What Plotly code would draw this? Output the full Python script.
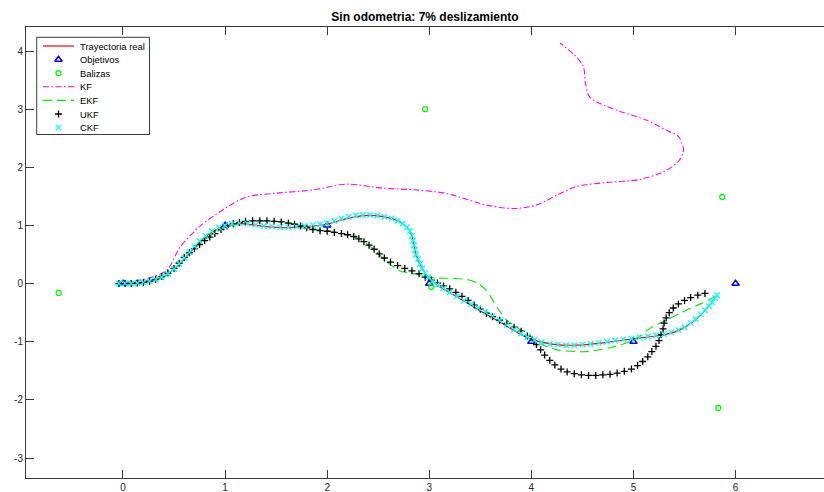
import plotly.graph_objects as go

# ---------------- data ----------------
real_x = [0.00, 0.20, 0.40, 0.55, 0.70, 0.85, 1.00, 1.15, 1.40, 1.60, 1.85, 2.00, 2.15, 2.35, 2.55,
          2.70, 2.80, 2.84, 2.87, 2.92, 3.00, 3.10, 3.30, 3.50, 3.70, 3.90, 4.00, 4.20, 4.45, 4.70,
          5.00, 5.30, 5.45, 5.58, 5.70, 5.80]
real_y = [0.00, 0.02, 0.12, 0.33, 0.62, 0.86, 0.99, 1.03, 0.98, 0.96, 0.99, 1.02, 1.10, 1.17, 1.15,
          1.07, 0.93, 0.75, 0.50, 0.29, 0.08, -0.05, -0.26, -0.47, -0.67, -0.88, -0.96, -1.04, -1.06, -1.02,
          -0.95, -0.88, -0.80, -0.66, -0.46, -0.24]

obj_x = [0, 1, 2, 3, 4, 5, 6]
obj_y = [0, 1, 1, 0, -1, -1, 0]

bal_x = [-0.63, 2.96, 3.02, 5.87, 5.83]
bal_y = [-0.16, 3.00, -0.06, 1.49, -2.14]

kf_x = [0.00, 0.26, 0.43, 0.56, 0.75, 0.98, 1.21, 1.47, 1.86, 2.19, 2.55, 2.88, 3.17, 3.56, 3.82,
        4.05, 4.25, 4.44, 4.74, 5.06, 5.29, 5.44, 5.49, 5.44, 5.32, 5.13, 4.87, 4.67, 4.57, 4.53,
        4.51, 4.44, 4.28]
kf_y = [0.00, 0.10, 0.23, 0.63, 0.98, 1.27, 1.49, 1.55, 1.61, 1.71, 1.64, 1.61, 1.55, 1.35, 1.29,
        1.35, 1.52, 1.67, 1.74, 1.79, 1.92, 2.10, 2.30, 2.53, 2.64, 2.81, 2.96, 3.10, 3.21, 3.44,
        3.73, 3.90, 4.14]

ekf_x = [0.00, 0.30, 0.50, 0.65, 0.82, 1.00, 1.20, 1.41, 1.60, 1.75, 1.90, 2.10, 2.30, 2.45, 2.58,
         2.71, 2.85, 3.04, 3.20, 3.37, 3.48, 3.56, 3.62, 3.68, 3.76, 3.88, 4.00, 4.12, 4.25, 4.54,
         4.80, 5.00, 5.19, 5.32, 5.46, 5.55, 5.67, 5.80]
ekf_y = [0.00, 0.05, 0.25, 0.52, 0.78, 0.97, 1.06, 1.08, 1.05, 0.99, 0.93, 0.88, 0.78, 0.60, 0.38,
         0.22, 0.17, 0.10, 0.09, 0.07, 0.00, -0.12, -0.28, -0.45, -0.63, -0.78, -0.92, -1.06, -1.14, -1.17,
         -1.09, -0.97, -0.74, -0.63, -0.51, -0.43, -0.34, -0.22]

ukf_x = [-0.04, 0.02, 0.08, 0.14, 0.20, 0.26, 0.32, 0.38, 0.44, 0.50, 0.55, 0.60, 0.65, 0.70, 0.75,
         0.80, 0.85, 0.90, 0.96, 1.02, 1.08, 1.14, 1.20, 1.27, 1.34, 1.41, 1.48, 1.55, 1.62, 1.68,
         1.74, 1.80, 1.86, 1.93, 2.00, 2.07, 2.14, 2.20, 2.26, 2.31, 2.36, 2.41, 2.46, 2.51, 2.56,
         2.62, 2.69, 2.76, 2.83, 2.90, 2.96, 3.02, 3.08, 3.14, 3.20, 3.26, 3.32, 3.38, 3.44, 3.50,
         3.56, 3.62, 3.69, 3.76, 3.83, 3.90, 3.96, 4.01, 4.05, 4.09, 4.13, 4.18, 4.23, 4.29, 4.35,
         4.42, 4.49, 4.56, 4.63, 4.70, 4.77, 4.84, 4.91, 4.98, 5.04, 5.09, 5.14, 5.18, 5.22, 5.25,
         5.27, 5.29, 5.30, 5.32, 5.35, 5.39, 5.44, 5.50, 5.56, 5.63, 5.70]
ukf_y = [0.00, 0.00, 0.00, 0.01, 0.02, 0.04, 0.07, 0.12, 0.18, 0.26, 0.35, 0.45, 0.53, 0.60, 0.67,
         0.74, 0.80, 0.86, 0.93, 0.99, 1.03, 1.05, 1.07, 1.08, 1.08, 1.08, 1.07, 1.06, 1.04, 1.02,
         0.99, 0.96, 0.93, 0.91, 0.90, 0.88, 0.86, 0.84, 0.81, 0.77, 0.72, 0.66, 0.59, 0.51, 0.44,
         0.37, 0.31, 0.26, 0.22, 0.17, 0.11, 0.06, 0.01, -0.04, -0.09, -0.15, -0.22, -0.29, -0.37, -0.44,
         -0.51, -0.57, -0.63, -0.69, -0.75, -0.82, -0.90, -0.97, -1.05, -1.14, -1.23, -1.32, -1.40, -1.47, -1.52,
         -1.55, -1.57, -1.58, -1.58, -1.57, -1.56, -1.54, -1.51, -1.47, -1.41, -1.34, -1.26, -1.17, -1.08, -0.98,
         -0.88, -0.78, -0.68, -0.59, -0.50, -0.42, -0.35, -0.29, -0.24, -0.20, -0.17]

ckf_x = [-0.04, 0.02, 0.08, 0.14, 0.20, 0.26, 0.32, 0.38, 0.44, 0.50, 0.55, 0.60, 0.65, 0.70, 0.75,
         0.81, 0.87, 0.94, 1.00, 1.07, 1.14, 1.22, 1.30, 1.38, 1.46, 1.54, 1.62, 1.70, 1.78, 1.86,
         1.93, 2.00, 2.07, 2.14, 2.21, 2.28, 2.35, 2.42, 2.49, 2.56, 2.63, 2.69, 2.74, 2.78, 2.81,
         2.83, 2.84, 2.85, 2.86, 2.87, 2.89, 2.91, 2.93, 2.96, 2.99, 3.03, 3.08, 3.14, 3.20, 3.27,
         3.34, 3.41, 3.48, 3.55, 3.62, 3.69, 3.76, 3.83, 3.90, 3.96, 4.03, 4.10, 4.18, 4.26, 4.34,
         4.42, 4.50, 4.58, 4.66, 4.74, 4.82, 4.90, 4.98, 5.06, 5.14, 5.22, 5.30, 5.37, 5.44, 5.50,
         5.56, 5.61, 5.66, 5.70, 5.74, 5.77, 5.80, 5.82]
ckf_y = [0.00, 0.00, 0.00, 0.01, 0.02, 0.04, 0.07, 0.11, 0.17, 0.25, 0.34, 0.44, 0.54, 0.64, 0.73,
         0.82, 0.90, 0.96, 1.00, 1.03, 1.04, 1.03, 1.01, 0.99, 0.98, 0.97, 0.97, 0.98, 0.99, 1.01,
         1.02, 1.04, 1.08, 1.12, 1.15, 1.17, 1.18, 1.18, 1.17, 1.15, 1.12, 1.08, 1.03, 0.97, 0.90,
         0.82, 0.74, 0.66, 0.58, 0.50, 0.42, 0.34, 0.26, 0.18, 0.11, 0.04, -0.02, -0.08, -0.15, -0.22,
         -0.29, -0.35, -0.42, -0.49, -0.56, -0.63, -0.71, -0.79, -0.86, -0.92, -0.97, -1.01, -1.04, -1.05, -1.06,
         -1.06, -1.05, -1.04, -1.02, -1.00, -0.98, -0.96, -0.95, -0.93, -0.91, -0.89, -0.87, -0.84, -0.80, -0.75,
         -0.68, -0.61, -0.53, -0.46, -0.39, -0.32, -0.25, -0.20]

x_ticks = [0, 1, 2, 3, 4, 5, 6]
x_ticktext = ["0", "1", "2", "3", "4", "5", "6"]
y_ticks = [-3, -2, -1, 0, 1, 2, 3, 4]
y_ticktext = ["-3", "-2", "-1", "0", "1", "2", "3", "4"]

legend_names = ["Trayectoria real", "Objetivos", "Balizas", "KF", "EKF", "UKF", "CKF"]

# ---------------- styles ----------------
W, H = 824, 492
AX_L, AX_T, AX_B = 26, 27, 478
X_RANGE = [-0.95, 6.866]
Y_RANGE = [-3.344, 4.413]
FONT = "Liberation Sans, Arial, Helvetica, sans-serif"
AXC = "#3a3a3a"

KF_DASH = "6px,2.5px,1.5px,2.5px"
EKF_DASH = "9px,5px"

styles = {
    "Trayectoria real": dict(mode="lines", line=dict(color="#ff0000", width=1.2)),
    "Objetivos": dict(mode="markers", marker=dict(symbol="triangle-up-open", size=6.5, color="#0000ff",
                                                   line=dict(width=1.5, color="#0000ff"))),
    "Balizas": dict(mode="markers", marker=dict(symbol="circle-open", size=5, color="#00ff00",
                                                 line=dict(width=1.3, color="#00ff00"))),
    "KF": dict(mode="lines", line=dict(color="#ff00ff", width=1.1, dash=KF_DASH)),
    "EKF": dict(mode="lines", line=dict(color="#00e600", width=1.1, dash=EKF_DASH)),
    "UKF": dict(mode="markers", marker=dict(symbol="cross-thin-open", size=5, color="#000000",
                                             line=dict(width=1.3, color="#000000"))),
    "CKF": dict(mode="markers", marker=dict(symbol="x-thin-open", size=5.5, color="#00ffff",
                                             line=dict(width=1.3, color="#00ffff"))),
}

fig = go.Figure()

series = [
    ("Trayectoria real", real_x, real_y, "spline"),
    ("Objetivos", obj_x, obj_y, None),
    ("Balizas", bal_x, bal_y, None),
    ("KF", kf_x, kf_y, "spline"),
    ("EKF", ekf_x, ekf_y, "spline"),
    ("UKF", ukf_x, ukf_y, None),
    ("CKF", ckf_x, ckf_y, None),
]
for name, xs, ys, shape in series:
    st = {k: (dict(v) if isinstance(v, dict) else v) for k, v in styles[name].items()}
    if shape and "line" in st:
        st["line"]["shape"] = shape
        st["line"]["smoothing"] = 0.8
    fig.add_trace(go.Scatter(x=xs, y=ys, name=name, showlegend=False, hoverinfo="x+y+name", **st))

# ---------------- hand-made legend (MATLAB-like compact spacing) ----------------
LEG_BOX = (36.7, 37.3, 149.5, 134.5)   # pixel box
LEG_Y0, LEG_DY = 46.0, 13.6
SAMPLE_X0, SAMPLE_X1, TEXT_X = 43.0, 74.0, 78.0

fig.add_shape(type="rect", xref="x2", yref="y2", x0=LEG_BOX[0], y0=LEG_BOX[1], x1=LEG_BOX[2], y1=LEG_BOX[3],
              line=dict(color=AXC, width=1), fillcolor="white", layer="below")

for i, name in enumerate(legend_names):
    yy = LEG_Y0 + i * LEG_DY
    st = styles[name]
    if st["mode"] == "lines":
        fig.add_trace(go.Scatter(x=[SAMPLE_X0, SAMPLE_X1], y=[yy, yy], mode="lines", line=st["line"],
                                 xaxis="x2", yaxis="y2", showlegend=False, hoverinfo="skip"))
    else:
        fig.add_trace(go.Scatter(x=[(SAMPLE_X0 + SAMPLE_X1) / 2], y=[yy], mode="markers", marker=st["marker"],
                                 xaxis="x2", yaxis="y2", showlegend=False, hoverinfo="skip"))
    fig.add_annotation(x=TEXT_X, y=yy, xref="x2", yref="y2", text=name, showarrow=False,
                       xanchor="left", yanchor="middle", font=dict(family=FONT, size=9.4, color="#000000"))

fig.update_layout(
    width=W, height=H,
    margin=dict(l=0, r=0, t=0, b=0),
    paper_bgcolor="white",
    plot_bgcolor="rgba(0,0,0,0)",
    showlegend=False,
    font=dict(family=FONT, size=10, color="#262626"),
    title=dict(text="<b>Sin odometria: 7% deslizamiento</b>", x=(AX_L + W) / 2 / W, xanchor="center",
               y=1 - 17 / H, yanchor="middle", font=dict(family=FONT, size=12, color="#000000")),
    xaxis=dict(domain=[AX_L / W, 1.0], range=X_RANGE, tickvals=x_ticks, ticktext=x_ticktext,
               ticks="inside", ticklen=8, tickwidth=1, tickcolor=AXC, showline=True, linecolor=AXC,
               linewidth=1, mirror="ticks", showgrid=False, zeroline=False, automargin=False,
               tickfont=dict(family=FONT, size=10, color="#262626")),
    yaxis=dict(domain=[(H - AX_B) / H, (H - AX_T) / H], range=Y_RANGE, tickvals=y_ticks, ticktext=y_ticktext,
               ticks="inside", ticklen=8, tickwidth=1, tickcolor=AXC, showline=True, linecolor=AXC,
               linewidth=1, mirror=False, showgrid=False, zeroline=False, automargin=False,
               tickfont=dict(family=FONT, size=10, color="#262626")),
    xaxis2=dict(domain=[0, 1], range=[0, W], visible=False, anchor="y2", fixedrange=True),
    yaxis2=dict(domain=[0, 1], range=[H, 0], visible=False, anchor="x2", fixedrange=True),
)

fig.write_html("out.html")
